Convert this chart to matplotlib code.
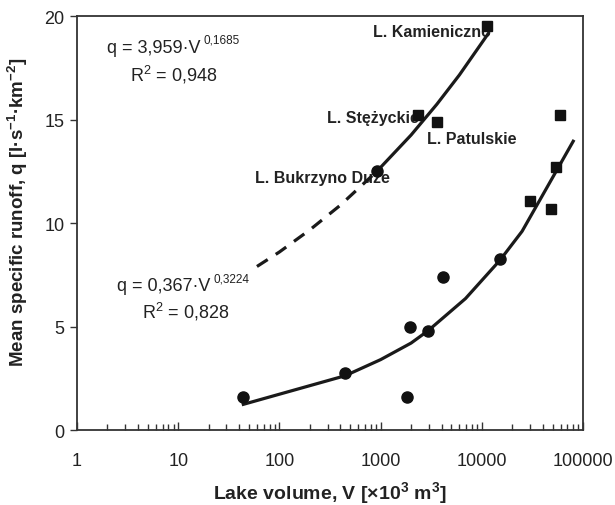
import matplotlib
matplotlib.use("Agg")
import matplotlib.pyplot as plt
import numpy as np

plt.rcParams.update({
    'font.family': ['Liberation Sans', 'DejaVu Sans'],
    'mathtext.fontset': 'custom',
    'mathtext.rm': 'Liberation Sans',
    'mathtext.it': 'Liberation Sans:italic',
    'mathtext.bf': 'Liberation Sans:bold',
})

# lakes drawn as squares
sq_v = [11200, 2340, 3600, 59000, 54000, 30000, 48000]
sq_q = [19.5, 15.2, 14.9, 15.2, 12.7, 11.05, 10.7]

# lakes drawn as circles
ci_v = [920, 44, 445, 1820, 1950, 2950, 4150, 15100]
ci_q = [12.5, 1.6, 2.75, 1.6, 5.0, 4.8, 7.4, 8.25]

# trend line vertices
up_dash_v = [60, 100, 200, 400, 920]
up_dash_q = [7.9, 8.6, 9.67, 10.86, 12.5]
up_solid_v = [920, 2000, 3600, 6000, 11500]
up_solid_q = [12.5, 14.25, 15.74, 17.15, 19.13]
low_v = [44, 445, 1000, 2000, 2950, 6900, 15100, 25000, 80000]
low_q = [1.24, 2.62, 3.4, 4.2, 4.8, 6.35, 8.2, 9.6, 13.95]

xticks = [1, 10, 100, 1000, 10000, 100000]
xticklabels = ['1', '10', '100', '1000', '10000', '100000']
yticks = [0, 5, 10, 15, 20]

fig = plt.figure(figsize=(6.15, 5.06), dpi=100)
ax = fig.add_axes([0.1252, 0.1482, 0.8228, 0.8182])

lc = '#1a1a1a'
ax.plot(up_dash_v, up_dash_q, color=lc, lw=2.3, dashes=(4, 3), zorder=3)
ax.plot(up_solid_v, up_solid_q, color=lc, lw=2.3, zorder=3)
ax.plot(low_v, low_q, color=lc, lw=2.3, zorder=3)
ax.plot(sq_v, sq_q, 's', color='#111111', ms=7.3, zorder=4)
ax.plot(ci_v, ci_q, 'o', color='#111111', ms=8, zorder=4)

ax.set_xscale('log')
ax.set_xlim(1, 100000)
ax.set_ylim(0, 20)
ax.set_xticks(xticks)
ax.set_xticklabels(xticklabels)
ax.set_yticks(yticks)

for s in ax.spines.values():
    s.set_color('#333333')
    s.set_linewidth(1.3)

ax.tick_params(axis='x', which='major', direction='in', length=6, width=1,
               colors='#333333', labelsize=13, pad=16, top=False)
ax.tick_params(axis='x', which='minor', direction='in', length=4, width=1,
               colors='#333333', top=False)
ax.tick_params(axis='x', labelcolor='#222222')
ax.tick_params(axis='y', direction='out', length=5, width=1, colors='#333333',
               labelsize=13, pad=4, right=False)
ax.tick_params(axis='y', labelcolor='#222222')
ax.minorticks_on()
ax.yaxis.set_minor_locator(matplotlib.ticker.NullLocator())

ax.set_xlabel(r'Lake volume, V [×10$^{\mathbf{3}}$ m$^{\mathbf{3}}$]',
              fontsize=14, fontweight='bold', color='#222222', labelpad=7)
ax.set_ylabel(r'Mean specific runoff, q [l·s$^{\mathbf{-1}}$·km$^{\mathbf{-2}}$]',
              fontsize=13.5, fontweight='bold', color='#222222')
ax.yaxis.set_label_coords(-0.092, 0.527)

tc = '#222222'


def eq_text(x, y, base, sup):
    t = ax.text(x, y, base, fontsize=13, color=tc, va='center', ha='left')
    ax.annotate(sup, xy=(1, 0.6), xycoords=t, xytext=(2.5, 0),
                textcoords='offset points', fontsize=8.5, color=tc,
                va='bottom', ha='left')


eq_text(1.98, 18.5, 'q = 3,959·V', '0,1685')
ax.text(3.34, 17.2, r'R$^{\mathregular{2}}$ = 0,948', fontsize=13, color=tc,
        va='center', ha='left')
eq_text(2.48, 6.96, 'q = 0,367·V', '0,3224')
ax.text(4.39, 5.75, r'R$^{\mathregular{2}}$ = 0,828', fontsize=13, color=tc,
        va='center', ha='left')

lab = dict(fontsize=11.5, fontweight='bold', color=tc, va='center', ha='left', zorder=2)
ax.text(841, 19.23, 'L. Kamieniczno', **lab)
ax.text(295, 15.12, 'L. Stężyckie', **lab)
ax.text(2870, 14.06, 'L. Patulskie', **lab)
ax.text(57.4, 12.22, 'L. Bukrzyno Duże', **lab)

fig.savefig('out.png', dpi=100)
